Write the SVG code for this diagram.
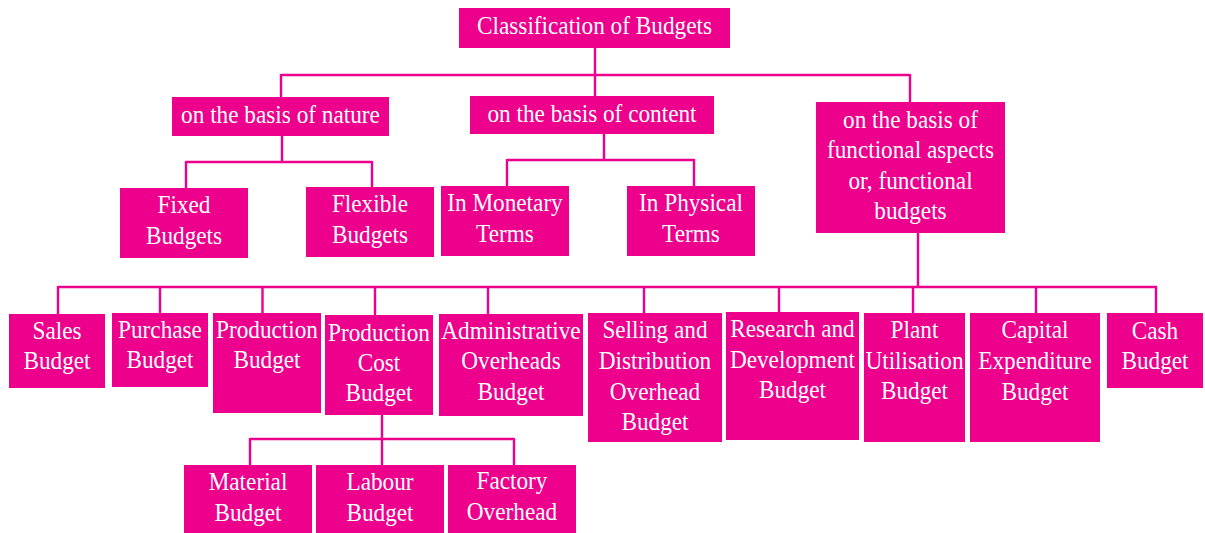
<svg xmlns="http://www.w3.org/2000/svg" width="1205" height="533" viewBox="0 0 1205 533">
<style>
.b{fill:#EC008C}
.t{fill:#FFFFFF;font-family:'Liberation Serif','Times New Roman',Times,serif;font-size:25px;text-anchor:middle;transform-box:fill-box;transform-origin:center;transform:scaleX(0.93)}
.c{fill:none;stroke:#EC008C;stroke-width:2.4}
</style>
<rect width="1205" height="533" fill="#FFFFFF"/>
<g id="connectors">
<path class="c" d="M595,48V96M281,75H910M281,74V97M910,74V102"/>
<path class="c" d="M282,136V162M186,162H372M186,161V188M372,161V187"/>
<path class="c" d="M604,134V160M507,160H694M507,159V186M694,159V186"/>
<path class="c" d="M918,233V287M58,287H1157M58,286V314M160,286V313M262.5,286V313M375,286V315M488,286V314M644,286V313M779,286V312M913,286V313M1036,286V313M1156,286V313"/>
<path class="c" d="M382,415V439M250,439H514M250,438V465M382,438V465M514,438V465"/>
</g>
<g id="root"><rect class="b" x="459" y="8" width="271" height="40"/><text class="t" x="594.5" y="34">Classification of Budgets</text></g>
<g id="nature"><rect class="b" x="172" y="97" width="217" height="39"/><text class="t" x="280.5" y="123">on the basis of nature</text></g>
<g id="content"><rect class="b" x="470" y="96" width="244" height="38"/><text class="t" x="592" y="122">on the basis of content</text></g>
<g id="functional"><rect class="b" x="816" y="102" width="189" height="131"/><text class="t" x="910.5" y="128">on the basis of</text><text class="t" x="910.5" y="158.5">functional aspects</text><text class="t" x="910.5" y="189">or, functional</text><text class="t" x="910.5" y="219.5">budgets</text></g>
<g id="fixed"><rect class="b" x="120" y="188" width="128" height="70"/><text class="t" x="184" y="213.5">Fixed</text><text class="t" x="184" y="244.5">Budgets</text></g>
<g id="flexible"><rect class="b" x="306" y="187" width="128" height="70"/><text class="t" x="370" y="212.5">Flexible</text><text class="t" x="370" y="243.5">Budgets</text></g>
<g id="monetary"><rect class="b" x="441" y="186" width="128" height="70"/><text class="t" x="505" y="211.5">In Monetary</text><text class="t" x="505" y="242.5">Terms</text></g>
<g id="physical"><rect class="b" x="627" y="186" width="128" height="70"/><text class="t" x="691" y="211.5">In Physical</text><text class="t" x="691" y="242">Terms</text></g>
<g id="sales"><rect class="b" x="9" y="314" width="96" height="74"/><text class="t" x="57" y="339.5">Sales</text><text class="t" x="57" y="369.5">Budget</text></g>
<g id="purchase"><rect class="b" x="112" y="313" width="96" height="74"/><text class="t" x="160" y="338">Purchase</text><text class="t" x="160" y="368.5">Budget</text></g>
<g id="production"><rect class="b" x="213" y="313" width="108" height="100"/><text class="t" x="267" y="338">Production</text><text class="t" x="267" y="368.5">Budget</text></g>
<g id="productioncost"><rect class="b" x="325" y="315" width="108" height="100"/><text class="t" x="379" y="341">Production</text><text class="t" x="379" y="371">Cost</text><text class="t" x="379" y="401.5">Budget</text></g>
<g id="admin"><rect class="b" x="439" y="314" width="144" height="102"/><text class="t" x="511" y="339.5">Administrative</text><text class="t" x="511" y="369.5">Overheads</text><text class="t" x="511" y="400">Budget</text></g>
<g id="selling"><rect class="b" x="588" y="313" width="134" height="129"/><text class="t" x="655" y="338.5">Selling and</text><text class="t" x="655" y="369">Distribution</text><text class="t" x="655" y="400">Overhead</text><text class="t" x="655" y="430.5">Budget</text></g>
<g id="research"><rect class="b" x="726" y="312" width="133" height="128"/><text class="t" x="792.5" y="337">Research and</text><text class="t" x="792.5" y="368">Development</text><text class="t" x="792.5" y="398.5">Budget</text></g>
<g id="plant"><rect class="b" x="864" y="313" width="101" height="129"/><text class="t" x="914.5" y="338.5">Plant</text><text class="t" x="914.5" y="369">Utilisation</text><text class="t" x="914.5" y="399.5">Budget</text></g>
<g id="capital"><rect class="b" x="970" y="313" width="130" height="129"/><text class="t" x="1035" y="338.5">Capital</text><text class="t" x="1035" y="369">Expenditure</text><text class="t" x="1035" y="400">Budget</text></g>
<g id="cash"><rect class="b" x="1107" y="313" width="96" height="75"/><text class="t" x="1155" y="339">Cash</text><text class="t" x="1155" y="369">Budget</text></g>
<g id="material"><rect class="b" x="184" y="465" width="128" height="68"/><text class="t" x="248" y="490">Material</text><text class="t" x="248" y="521">Budget</text></g>
<g id="labour"><rect class="b" x="316" y="465" width="128" height="68"/><text class="t" x="380" y="490">Labour</text><text class="t" x="380" y="521">Budget</text></g>
<g id="factory"><rect class="b" x="448" y="465" width="128" height="68"/><text class="t" x="512" y="489.5">Factory</text><text class="t" x="512" y="520">Overhead</text></g>
</svg>
